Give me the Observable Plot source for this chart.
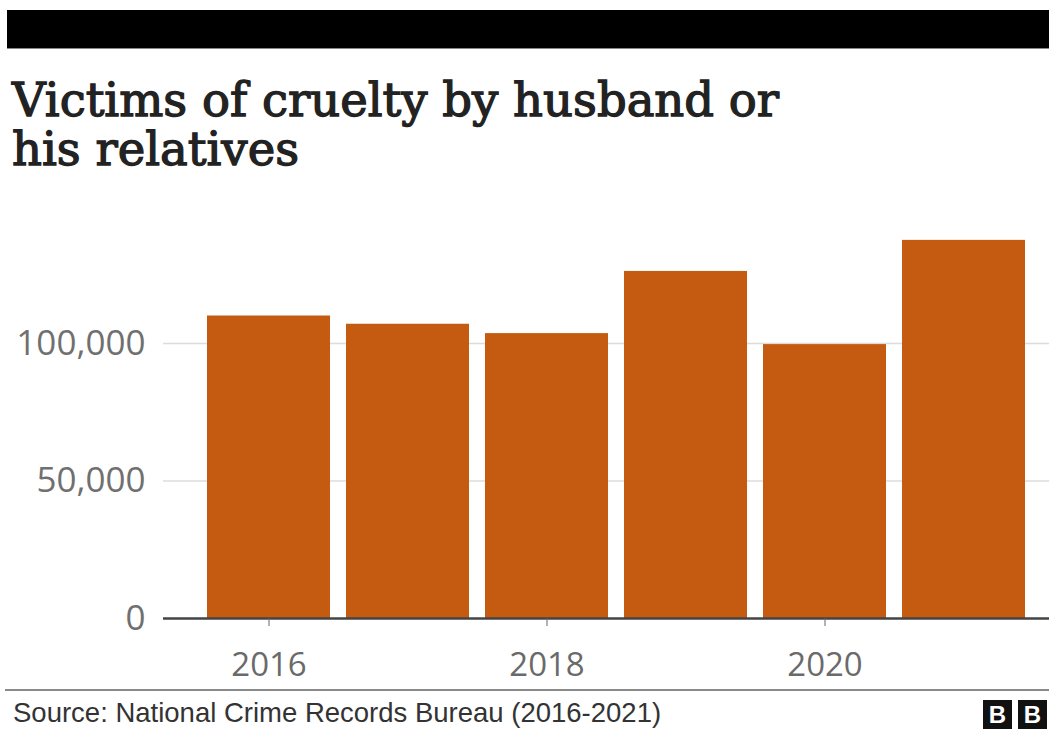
<!DOCTYPE html>
<html>
<head>
<meta charset="utf-8">
<script src="https://cdn.jsdelivr.net/npm/d3@7"></script>
<script src="https://cdn.jsdelivr.net/npm/@observablehq/plot@0.6"></script>
<style>
  html, body { margin: 0; padding: 0; background: #fff; width: 1049px; height: 729px; overflow: hidden; position: relative; }
  #topbar { position: absolute; left: 7px; top: 10px; width: 1042px; height: 38px; background: #000; border-bottom: 1px solid #888; }
  #title { position: absolute; left: 12px; top: 76px; font-family: "DejaVu Serif", serif; font-size: 46.5px; line-height: 49px; color: #222; font-weight: normal; -webkit-text-stroke: 1.3px #222; letter-spacing: 0px; }
  #chart { position: absolute; left: 0; top: 195px; }
  #rule { position: absolute; left: 5px; top: 689px; width: 1044px; height: 2px; background: #8a8a8a; }
  #source { position: absolute; left: 13px; top: 697px; font-family: "Liberation Sans", Arial, sans-serif; font-size: 27.5px; line-height: 32px; color: #333; }
  .blk { position: absolute; top: 700px; width: 29px; height: 29px; background: #111; color: #fff; font-family: "Liberation Sans", Arial, sans-serif; font-weight: bold; font-size: 24px; line-height: 29px; text-align: center; }
</style>
</head>
<body>
<div id="topbar"></div>
<div id="title">Victims of cruelty by husband or<br>his relatives</div>
<div id="chart"></div>
<div id="rule"></div>
<div id="source">Source: National Crime Records Bureau (2016-2021)</div>
<div class="blk" style="left:983px">B</div>
<div class="blk" style="left:1018px">B</div>
<script>
const years = [2016, 2017, 2018, 2019, 2020, 2021];
const victims = [110000, 107000, 103600, 126200, 99600, 137500];
const xTicks = [2016, 2018, 2020];
const yTicks = [0, 50000, 100000];

const data = years.map((year, i) => ({year, victims: victims[i]}));

const chart = Plot.plot({
  width: 1049,
  height: 495,
  marginLeft: 163,
  marginRight: 0,
  marginTop: 10.5,
  marginBottom: 72,
  style: { fontFamily: "'Open Sans', sans-serif", background: "transparent", overflow: "visible" },
  x: { type: "band", domain: years, paddingInner: 0.113, paddingOuter: 0.2253, align: 0.65 },
  y: { domain: [0, 150000] },
  marks: [
    Plot.gridY(yTicks.filter(d => d > 0), { stroke: "#dcdcdc", strokeOpacity: 1, strokeWidth: 1.5 }),
    Plot.barY(data, { x: "year", y: "victims", fill: "#c55a11" }),
    Plot.ruleY([0], { stroke: "#444", strokeWidth: 2.5 }),
    Plot.axisY({ ticks: yTicks, tickSize: 0, tickPadding: 18, tickFormat: d3.format(","), fontSize: 35, color: "#707070", label: null }),
    Plot.axisX({ ticks: xTicks, tickSize: 8, tickPadding: 26, stroke: "#666", fontSize: 33, color: "#6a6a6a", label: null, tickFormat: d => String(d) })
  ]
});
document.getElementById("chart").appendChild(chart);
</script>
</body>
</html>
